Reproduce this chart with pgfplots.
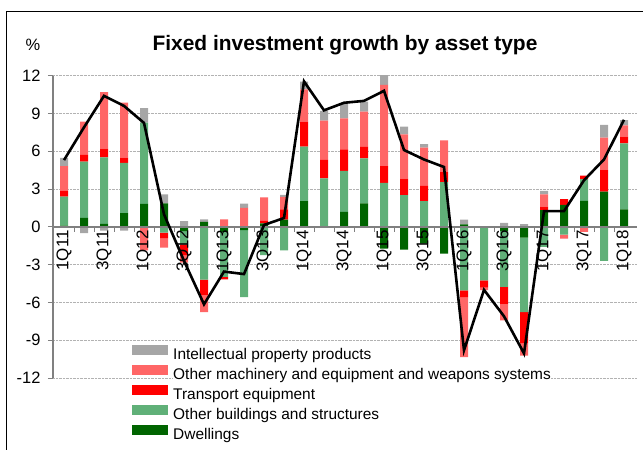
\documentclass[border=0pt]{standalone}
\usepackage{pgfplots}
\pgfplotsset{compat=1.18}
\usepackage{pgfplotstable}
\usepackage{fontspec}
\setmainfont{Liberation Sans}

\definecolor{ipgray}{RGB}{166,166,166}
\definecolor{machred}{RGB}{255,102,102}
\definecolor{transred}{RGB}{255,0,0}
\definecolor{bldgreen}{RGB}{96,176,120}
\definecolor{dwgreen}{RGB}{0,100,0}

% contributions to growth, percentage points; Tot = total growth (line)
\pgfplotstableread{
q  D      OB     T      M      IP     Tot
0   0.10   2.30   0.48   1.94   0.66   5.30
1   0.72   4.46   0.53   2.65  -0.50   7.90
2   0.24   5.28   0.69   4.48  -0.30  10.40
3   1.09   3.98   0.42   4.38  -0.30   9.60
4   1.83   6.45   0.00  -1.86   1.14   8.25
5   1.86  -0.45  -0.45  -0.75   0.72   1.00
6  -0.34  -1.06  -0.85  -0.60   0.45  -2.70
7   0.40  -4.19  -1.25  -1.33   0.20  -6.15
8  -0.40  -3.58  -0.19   0.60   0.00  -3.55
9  -0.27  -5.30   0.00   1.51   0.34  -3.75
10  0.27  -2.25   0.20   1.86   0.00   0.15
11  0.58  -1.86   0.80   1.00   0.15   0.70
12  2.04   4.32   1.99   2.57   0.61  11.55
13  0.00   3.85   1.46   3.13   0.77   9.25
14  1.19   3.26   1.70   2.47   1.14   9.85
15  1.86   3.58   0.90   2.81   0.80  10.00
16 -1.72   3.50   1.33   6.45   1.00  10.80
17 -1.80   2.52   1.30   3.53   0.61   6.10
18 -1.33   2.04   1.22   3.02   0.29   5.35
19 -2.12   3.55   0.80   2.52   0.00   4.75
20  0.20  -5.04  -0.53  -4.77   0.37  -9.80
21  0.00  -4.24  -0.58  -0.21   0.00  -5.00
22 -0.34  -4.43  -1.38  -1.27   0.32  -7.10
23 -0.85  -5.92  -2.47  -0.98   0.21 -10.05
24  1.33  -1.59   0.27   0.98   0.27   1.25
25  1.75  -0.61   0.45  -0.32   0.00   1.25
26  2.07   1.72   0.27  -0.40   0.00   3.70
27  2.79  -2.70   1.72   2.57   1.01   5.35
28  1.38   5.25   0.53   0.90   0.42   8.50
}\invest

\pgfplotsset{
  chartbox/.style={
    scale only axis, width=584bp, height=302.3bp,
    at={(53bp,72bp)}, anchor=south west,
    xmin=-0.55, xmax=28.65, ymin=-12, ymax=12,
  },
}

\begin{document}
\begin{tikzpicture}
\path[use as bounding box] (0,0) rectangle (643bp,450bp);

% frame, grid, positive parts of the stacks
\begin{axis}[chartbox,
  ybar stacked, bar width=8bp,
  axis x line*=middle, axis y line*=left,
  axis line style={gray, line width=1.4bp},
  tick align=outside, major tick length=5bp,
  tick style={gray, line width=0.9bp},
  xtick={0.5,1.5,...,27.5}, xticklabels={},
  ytick={-12,-9,...,12},
  yticklabel style={font=\fontsize{16.5}{16.5}\selectfont, xshift=-4bp},
  /pgf/number format/assume math mode=true,
  ymajorgrids, grid style={gray!60, densely dotted, line width=0.7bp},
]
\addplot[fill=dwgreen, draw=none] table[x=q, y expr={max(\thisrow{D},0)}] {\invest};
\addplot[fill=bldgreen, draw=none] table[x=q, y expr={max(\thisrow{OB},0)}] {\invest};
\addplot[fill=transred, draw=none] table[x=q, y expr={max(\thisrow{T},0)}] {\invest};
\addplot[fill=machred, draw=none] table[x=q, y expr={max(\thisrow{M},0)}] {\invest};
\addplot[fill=ipgray, draw=none] table[x=q, y expr={max(\thisrow{IP},0)}] {\invest};
\end{axis}

% negative parts, stacked down from zero; zero line on top
\begin{axis}[chartbox, ybar stacked, bar width=8bp, axis on top,
  axis x line*=middle, axis y line=none,
  x axis line style={gray, line width=1.4bp},
  xtick=\empty, ytick=\empty,
]
\addplot[fill=dwgreen, draw=none] table[x=q, y expr={min(\thisrow{D},0)}] {\invest};
\addplot[fill=bldgreen, draw=none] table[x=q, y expr={min(\thisrow{OB},0)}] {\invest};
\addplot[fill=transred, draw=none] table[x=q, y expr={min(\thisrow{T},0)}] {\invest};
\addplot[fill=machred, draw=none] table[x=q, y expr={min(\thisrow{M},0)}] {\invest};
\addplot[fill=ipgray, draw=none] table[x=q, y expr={min(\thisrow{IP},0)}] {\invest};
\end{axis}

% total line, category labels and legend
\begin{axis}[chartbox, axis on top,
  axis x line*=middle, axis y line=none,
  x axis line style={draw=none},
  ytick=\empty,
  xtick={0,2,...,28}, major tick length=0pt,
  xticklabels={1Q11,3Q11,1Q12,3Q12,1Q13,3Q13,1Q14,3Q14,1Q15,3Q15,1Q16,3Q16,1Q17,3Q17,1Q18},
  xticklabel style={rotate=90, anchor=east, font=\fontsize{17}{17}\selectfont},
  legend cell align=left,
  legend image code/.code={\fill[#1] (0bp,0.5bp) rectangle (36bp,10.5bp);},
  legend style={at={(0.1353,0.111)}, anchor=north west, draw=none, fill=none,
    inner sep=0pt, row sep=2.5bp, font=\fontsize{15.5}{15.5}\selectfont,
    nodes={inner sep=0pt, text height=11bp, text depth=3bp, fill=white},
    /tikz/every odd column/.style={column sep=5bp}},
]
\addlegendimage{fill=ipgray, draw=none}
\addlegendimage{fill=machred, draw=none}
\addlegendimage{fill=transred, draw=none}
\addlegendimage{fill=bldgreen, draw=none}
\addlegendimage{fill=dwgreen, draw=none}
\addplot[black, line width=2.6bp, mark=none, forget plot] table[x=q, y=Tot] {\invest};
\legend{Intellectual property products,
  Other machinery and equipment and weapons systems,
  Transport equipment, Other buildings and structures, Dwellings}
\end{axis}

\node[font=\fontsize{21}{21}\selectfont\bfseries] at (345bp,405bp) {Fixed investment growth by asset type};
\node[font=\fontsize{16.5}{16.5}\selectfont] at (33bp,405bp) {\%};
\draw[line width=1.3bp] (6.5bp,0bp) -- (6.5bp,438.5bp) -- (643bp,438.5bp);
\end{tikzpicture}
\end{document}
